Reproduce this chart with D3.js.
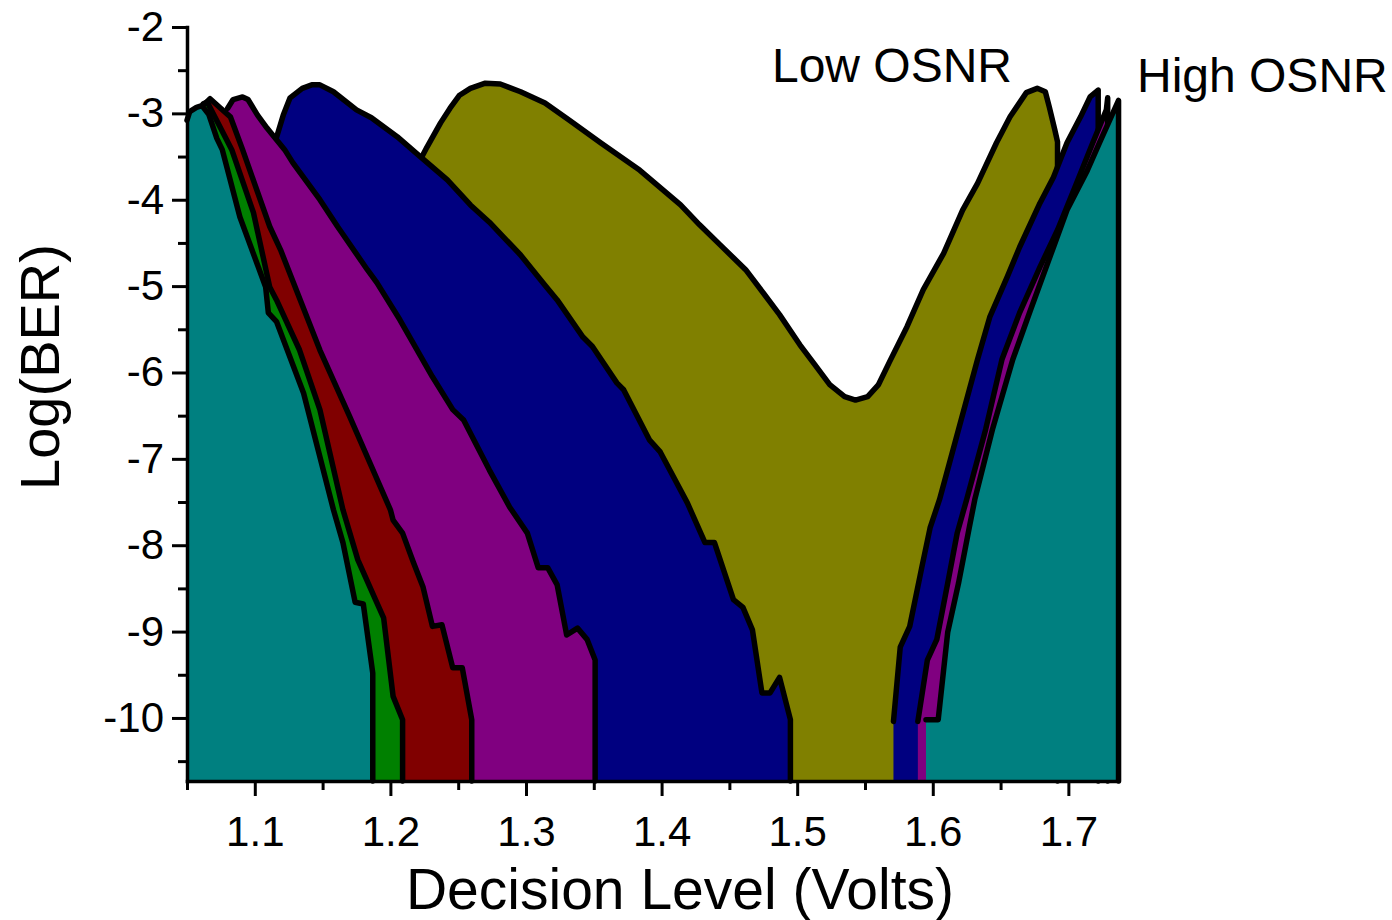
<!DOCTYPE html>
<html>
<head>
<meta charset="utf-8">
<script src="https://cdn.jsdelivr.net/npm/d3@7"></script>
<style>
  body { margin: 0; background: #fff; }
  svg { display: block; font-family: "Liberation Sans", Arial, sans-serif; }
</style>
</head>
<body>
<svg id="chart" width="1392" height="920"></svg>
<script>
// Decision-level scans: log10(BER) against receiver threshold voltage,
// one filled curve per OSNR setting. Each branch is [volts, logBER].

const xTicks = [1.1, 1.2, 1.3, 1.4, 1.5, 1.6, 1.7];
const xMinorTicks = [1.05, 1.15, 1.25, 1.35, 1.45, 1.55, 1.65];
const yTicks = [-2, -3, -4, -5, -6, -7, -8, -9, -10];
const yMinorTicks = [-2.5, -3.5, -4.5, -5.5, -6.5, -7.5, -8.5, -9.5, -10.5];

// Lowest OSNR: a single shallow V
const oliveCurve = [
  [1.222, -3.54], [1.227, -3.39], [1.237, -3.11], [1.244, -2.94], [1.251, -2.79],
  [1.259, -2.71], [1.270, -2.65], [1.281, -2.66], [1.296, -2.75], [1.314, -2.88],
  [1.332, -3.08], [1.355, -3.34], [1.384, -3.66], [1.414, -4.06], [1.428, -4.29],
  [1.443, -4.52], [1.462, -4.81], [1.476, -5.10], [1.487, -5.33], [1.502, -5.68],
  [1.513, -5.91], [1.524, -6.14], [1.535, -6.28], [1.543, -6.32], [1.552, -6.28],
  [1.560, -6.14], [1.568, -5.88], [1.581, -5.47], [1.593, -5.04], [1.608, -4.62],
  [1.622, -4.12], [1.633, -3.81], [1.647, -3.34], [1.657, -3.04], [1.669, -2.76],
  [1.677, -2.71], [1.683, -2.75], [1.686, -2.93], [1.690, -3.19], [1.692, -3.33]
];

const navyLeft = [
  [1.116, -3.28], [1.121, -3.02], [1.126, -2.82], [1.135, -2.71], [1.142, -2.67],
  [1.148, -2.67], [1.158, -2.75], [1.175, -2.96], [1.186, -3.05], [1.205, -3.27],
  [1.222, -3.50], [1.242, -3.77], [1.259, -4.06], [1.273, -4.26], [1.296, -4.64],
  [1.314, -4.99], [1.323, -5.16], [1.342, -5.59], [1.349, -5.70], [1.367, -6.12],
  [1.372, -6.20], [1.391, -6.78], [1.399, -6.92], [1.419, -7.51], [1.432, -7.97],
  [1.439, -7.97], [1.453, -8.63], [1.460, -8.72], [1.467, -8.98], [1.474, -9.71],
  [1.480, -9.71], [1.487, -9.53], [1.495, -10.02]
];
const navyRight = [
  [1.571, -10.04], [1.576, -9.18], [1.583, -8.94], [1.592, -8.25], [1.598, -7.80],
  [1.605, -7.47], [1.619, -6.66], [1.633, -5.85], [1.642, -5.36], [1.655, -4.89],
  [1.664, -4.55], [1.679, -4.04], [1.689, -3.74], [1.699, -3.34], [1.709, -3.04],
  [1.716, -2.81], [1.722, -2.73]
];

const purpleLeft = [
  [1.080, -2.94], [1.084, -2.84], [1.091, -2.81], [1.095, -2.84], [1.102, -3.02],
  [1.109, -3.17], [1.122, -3.42], [1.128, -3.57], [1.148, -4.00], [1.161, -4.31],
  [1.183, -4.81], [1.190, -4.96], [1.207, -5.39], [1.231, -6.05], [1.246, -6.43],
  [1.254, -6.55], [1.273, -7.13], [1.288, -7.56], [1.301, -7.86], [1.309, -8.26],
  [1.316, -8.26], [1.323, -8.46], [1.330, -9.04], [1.338, -8.96], [1.345, -9.09],
  [1.351, -9.33]
];
const purpleRight = [
  [1.589, -10.04], [1.596, -9.33], [1.603, -9.09], [1.611, -8.44], [1.618, -7.86],
  [1.625, -7.47], [1.639, -6.66], [1.651, -5.85], [1.664, -5.31], [1.679, -4.78],
  [1.692, -4.35], [1.706, -3.81], [1.718, -3.34], [1.728, -2.96], [1.729, -2.82]
];

const redLeft = [
  [1.063, -2.89], [1.067, -2.83], [1.074, -2.93], [1.082, -3.04], [1.091, -3.42],
  [1.111, -4.31], [1.119, -4.58], [1.148, -5.74], [1.170, -6.51], [1.200, -7.59],
  [1.202, -7.71], [1.209, -7.86], [1.217, -8.20], [1.224, -8.48], [1.231, -8.94],
  [1.238, -8.92], [1.246, -9.42], [1.253, -9.42], [1.260, -10.02]
];

const greenLeft = [
  [1.062, -2.89], [1.065, -2.87], [1.083, -3.42], [1.099, -4.15], [1.111, -5.01],
  [1.116, -5.16], [1.133, -5.74], [1.148, -6.43], [1.165, -7.59], [1.176, -8.17],
  [1.189, -8.63], [1.195, -8.84], [1.202, -9.75], [1.209, -10.02]
];

// Highest OSNR: widest eye opening
const tealLeft = [
  [1.050, -3.08], [1.052, -2.98], [1.057, -2.93], [1.061, -2.91], [1.066, -3.01],
  [1.072, -3.29], [1.076, -3.42], [1.089, -4.20], [1.108, -5.01], [1.110, -5.31],
  [1.116, -5.41], [1.136, -6.24], [1.158, -7.59], [1.165, -7.97], [1.174, -8.66],
  [1.180, -8.68], [1.187, -9.48]
];
const tealRight = [
  [1.595, -10.02], [1.604, -10.02], [1.611, -9.01], [1.619, -8.44], [1.627, -7.79],
  [1.631, -7.47], [1.644, -6.66], [1.659, -5.85], [1.672, -5.28], [1.689, -4.55],
  [1.699, -4.12], [1.714, -3.66], [1.723, -3.34], [1.737, -2.85]
];

// Back-to-front drawing order, low OSNR first
const series = [
  { name: "olive",  branches: [oliveCurve] },
  { name: "navy",   branches: [navyLeft, navyRight] },
  { name: "purple", branches: [purpleLeft, purpleRight] },
  { name: "red",    branches: [redLeft] },
  { name: "green",  branches: [greenLeft] },
  { name: "teal",   branches: [tealLeft, tealRight] }
];
const fillColor = {
  olive: "#808000", navy: "#000080", purple: "#800080",
  red: "#800000", green: "#008000", teal: "#008080"
};

const svg = d3.select("#chart");
const plot = { left: 187, right: 1118, top: 27, bottom: 781 };

const x = d3.scaleLinear().domain([1.05, 1.7366]).range([plot.left, plot.right]);
const y = d3.scaleLinear().domain([-10.73, -2]).range([plot.bottom, plot.top]);
const yFloor = y.domain()[0];

const area = d3.area()
  .x(d => x(d[0]))
  .y0(y(yFloor))
  .y1(d => y(d[1]));
const line = d3.line()
  .x(d => x(d[0]))
  .y(d => y(d[1]));

const curves = svg.append("g").attr("class", "curves");
series.forEach(s => {
  const g = curves.append("g").attr("class", "series-" + s.name);
  s.branches.forEach(b => {
    // each branch falls off to the floor of the plot after its last sample
    const last = b[b.length - 1];
    const pts = b.concat([[last[0], yFloor]]);
    g.append("path")
      .attr("d", area(pts))
      .attr("fill", fillColor[s.name])
      .attr("stroke", "none");
    g.append("path")
      .attr("d", line(pts))
      .attr("fill", "none")
      .attr("stroke", "#000")
      .attr("stroke-width", 5.5)
      .attr("stroke-linejoin", "round")
      .attr("stroke-linecap", "round");
  });
});

// Axes: labelled major ticks plus unlabelled minor ticks, all pointing outward
svg.append("g")
  .attr("transform", `translate(0,${plot.bottom})`)
  .call(d3.axisBottom(x).tickValues(xTicks).tickSize(15).tickSizeOuter(0)
    .tickPadding(20).tickFormat(d3.format(".1f")));
svg.append("g")
  .attr("transform", `translate(0,${plot.bottom})`)
  .call(d3.axisBottom(x).tickValues(xMinorTicks).tickSize(9).tickSizeOuter(0).tickFormat(""))
  .call(g => g.select(".domain").remove());

svg.append("g")
  .attr("transform", `translate(${plot.left},0)`)
  .call(d3.axisLeft(y).tickValues(yTicks).tickSize(15).tickSizeOuter(0)
    .tickPadding(8).tickFormat(d => String(d)));
svg.append("g")
  .attr("transform", `translate(${plot.left},0)`)
  .call(d3.axisLeft(y).tickValues(yMinorTicks).tickSize(9).tickSizeOuter(0).tickFormat(""))
  .call(g => g.select(".domain").remove());

svg.selectAll(".domain").attr("stroke", "#000").attr("stroke-width", 3.5)
  .attr("stroke-linecap", "square");
svg.selectAll(".tick line").attr("stroke", "#000").attr("stroke-width", 3);
svg.selectAll(".tick text")
  .attr("fill", "#000")
  .attr("font-family", "'Liberation Sans', Arial, sans-serif")
  .attr("font-size", 42);

// Axis titles
svg.append("text")
  .attr("x", 680)
  .attr("y", 909)
  .attr("text-anchor", "middle")
  .attr("font-size", 57)
  .attr("fill", "#000")
  .text("Decision Level (Volts)");
svg.append("text")
  .attr("transform", "translate(59,367) rotate(-90)")
  .attr("text-anchor", "middle")
  .attr("font-size", 56)
  .attr("fill", "#000")
  .text("Log(BER)");

// Curve-family annotations
svg.append("text")
  .attr("x", x(1.4814))
  .attr("y", y(-2.637))
  .attr("font-size", 48)
  .attr("fill", "#000")
  .text("Low OSNR");
svg.append("text")
  .attr("x", x(1.7506))
  .attr("y", y(-2.752))
  .attr("font-size", 48)
  .attr("fill", "#000")
  .text("High OSNR");
</script>
</body>
</html>
